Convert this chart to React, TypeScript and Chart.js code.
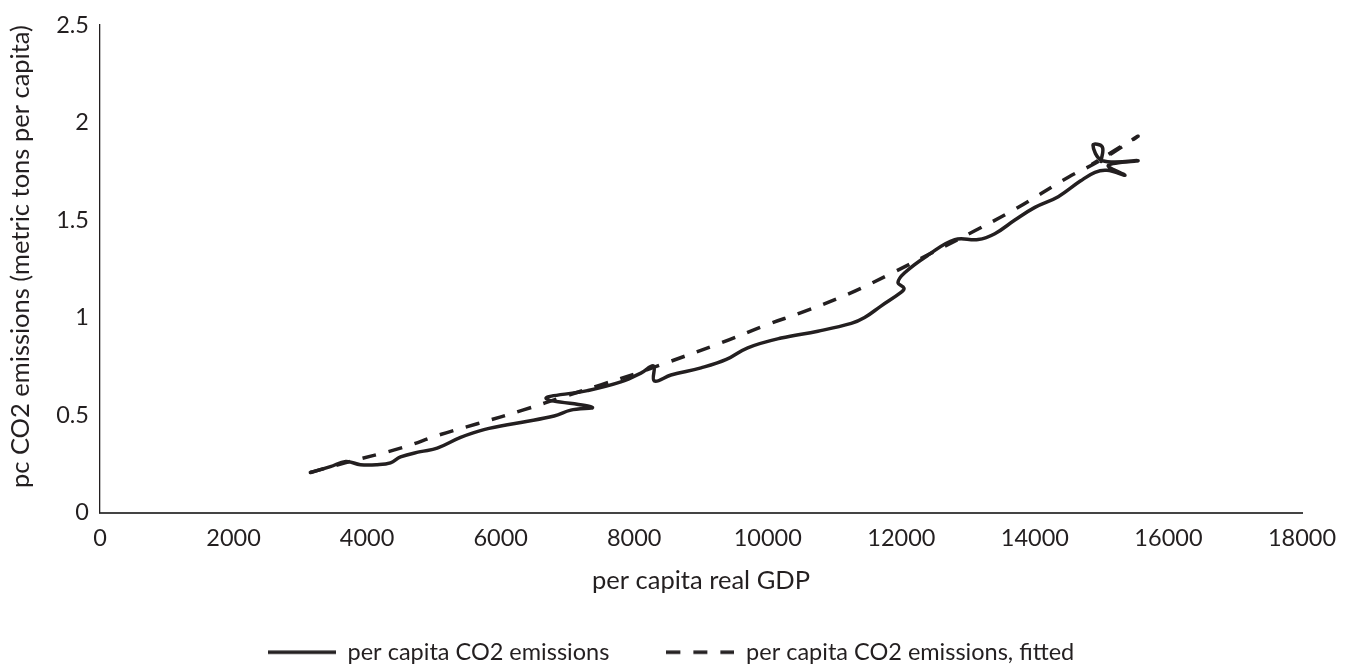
import React, { useEffect, useRef } from 'react';
import { Chart, registerables } from 'chart.js';

Chart.register(...registerables);

// Observed series, in time order (x = per capita real GDP, y = CO2 t/capita)
const gdp = [
  3150, 3450, 3680, 3900, 4150, 4350, 4500, 4800, 5050, 5400, 5750, 6300, 6800, 7050,
  7370, 6680, 7300, 7800, 8100, 8290, 8300, 8550, 9000, 9380, 9700, 10200, 10750,
  11250, 11450, 11700, 12000, 12040, 11950, 12050, 12400, 12800, 13150, 13400, 13700,
  14000, 14350, 14680, 14900, 15080, 15350, 15100, 15545, 15010, 14870, 15010, 14990,
];
const co2 = [
  0.205, 0.235, 0.262, 0.245, 0.245, 0.255, 0.285, 0.312, 0.33, 0.385, 0.425, 0.462,
  0.495, 0.525, 0.54, 0.585, 0.625, 0.67, 0.715, 0.752, 0.675, 0.705, 0.742, 0.785,
  0.845, 0.895, 0.93, 0.97, 1.0, 1.06, 1.13, 1.15, 1.18, 1.23, 1.32, 1.4, 1.4, 1.43,
  1.5, 1.565, 1.62, 1.7, 1.745, 1.755, 1.73, 1.78, 1.805, 1.805, 1.885, 1.875, 1.8,
];

// Fitted series (retraces its upper end, as the later years go back and forth)
const fittedGdp = [
  3150, 3670, 4500, 5100, 5650, 6330, 7000, 7500, 8000, 8500, 9300, 10000, 10500,
  11200, 11900, 12500, 13100, 13700, 14500, 14950, 15545, 14850, 15545,
];
const fittedCo2 = [
  0.205, 0.255, 0.33, 0.4, 0.455, 0.525, 0.6, 0.655, 0.71, 0.77, 0.87, 0.965, 1.025,
  1.12, 1.235, 1.34, 1.445, 1.555, 1.72, 1.8, 1.93, 1.785, 1.93,
];

const xTicks = [0, 2000, 4000, 6000, 8000, 10000, 12000, 14000, 16000, 18000];
const yTicks = [0, 0.5, 1, 1.5, 2, 2.5];
const seriesNames = ['per capita CO2 emissions', 'per capita CO2 emissions, fitted'];
const xTitle = 'per capita real GDP';
const yTitle = 'pc CO2 emissions (metric tons per capita)';

const INK = '#231f20';
const FONT = 'Lato, Carlito, "Open Sans", sans-serif';
const TICK_FS = 23.5;
const TITLE_FS = 25.5;
const LINE_W = 3.5;
const DASH = [14, 13];
const SAMPLE_W = 68;

function makeSample(dash: number[]) {
  const c = document.createElement('canvas');
  c.width = SAMPLE_W;
  c.height = 8;
  const g = c.getContext('2d');
  if (g) {
    g.strokeStyle = INK;
    g.lineWidth = LINE_W;
    g.setLineDash(dash);
    g.beginPath();
    g.moveTo(0, 4);
    g.lineTo(SAMPLE_W, 4);
    g.stroke();
  }
  return c;
}

export default function App() {
  const ref = useRef<HTMLCanvasElement>(null);

  useEffect(() => {
    const canvas = ref.current;
    if (!canvas) return;
    const chart = new Chart(canvas, {
      type: 'scatter',
      data: {
        datasets: [
          {
            label: seriesNames[0],
            data: gdp.map((x, i) => ({ x, y: co2[i] })),
            showLine: true,
            borderColor: INK,
            backgroundColor: INK,
            borderWidth: LINE_W,
            pointRadius: 0,
            pointHoverRadius: 0,
            pointStyle: makeSample([]),
            tension: 0.4,
            borderCapStyle: 'round',
            borderJoinStyle: 'round',
          },
          {
            label: seriesNames[1],
            data: fittedGdp.map((x, i) => ({ x, y: fittedCo2[i] })),
            showLine: true,
            borderColor: INK,
            backgroundColor: INK,
            borderWidth: LINE_W,
            borderDash: DASH,
            pointRadius: 0,
            pointHoverRadius: 0,
            pointStyle: makeSample(DASH),
            tension: 0.4,
            borderCapStyle: 'butt',
          },
        ],
      },
      options: {
        responsive: false,
        animation: false,
        layout: { padding: { left: 40, right: 49, top: 18, bottom: -2 } },
        plugins: {
          tooltip: { enabled: false },
          legend: {
            position: 'bottom',
            labels: {
              usePointStyle: true,
              pointStyleWidth: SAMPLE_W,
              padding: 57,
              color: INK,
              font: { family: FONT, size: TICK_FS },
            },
          },
        },
        scales: {
          x: {
            type: 'linear',
            min: xTicks[0],
            max: xTicks[xTicks.length - 1],
            afterBuildTicks: (s: any) => {
              s.ticks = xTicks.map((v) => ({ value: v }));
            },
            afterFit: (s: any) => {
              s.height = 71;
            },
            grid: { display: false, drawTicks: false },
            border: { display: true, color: '#444', width: 2 },
            ticks: {
              padding: 12,
              color: INK,
              font: { family: FONT, size: TICK_FS },
              maxRotation: 0,
              callback: (v: any) => String(v),
            },
            title: {
              display: true,
              text: xTitle,
              color: INK,
              font: { family: FONT, size: TITLE_FS },
              padding: { top: 0, bottom: -13 },
            },
          },
          y: {
            type: 'linear',
            min: yTicks[0],
            max: yTicks[yTicks.length - 1],
            afterBuildTicks: (s: any) => {
              s.ticks = yTicks.map((v) => ({ value: v }));
            },
            afterFit: (s: any) => {
              s.width = 60;
            },
            grid: { display: false, drawTicks: false },
            border: { display: true, color: INK, width: 1.3 },
            ticks: {
              padding: 11,
              color: INK,
              font: { family: FONT, size: TICK_FS },
              callback: (v: any) => String(v),
            },
            title: {
              display: true,
              text: yTitle,
              align: 'end',
              color: INK,
              font: { family: FONT, size: TITLE_FS },
              padding: { top: -35, bottom: 0 },
            },
          },
        },
      },
    });
    return () => chart.destroy();
  }, []);

  return (
    <div style={{ position: 'fixed', left: 0, top: 0, width: 1351, height: 672, background: '#fff' }}>
      <canvas ref={ref} width={1351} height={672} />
    </div>
  );
}
